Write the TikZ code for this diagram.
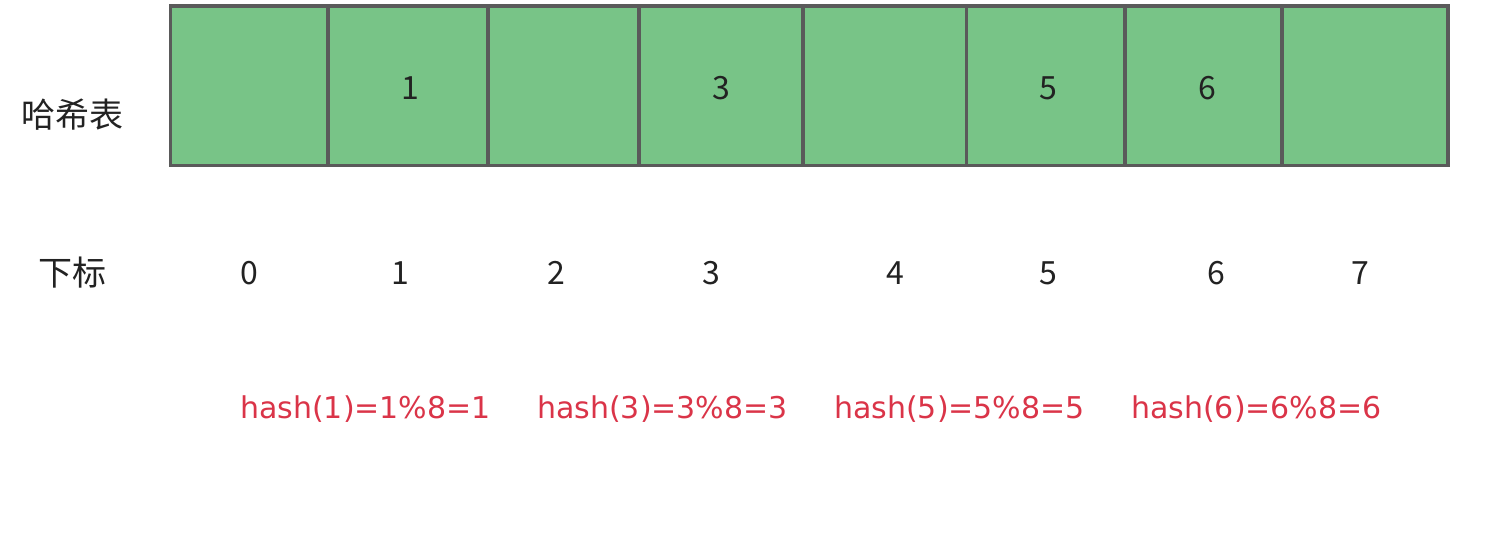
\documentclass[tikz,border=0pt]{standalone}
\usepackage{fontspec}
\setmainfont{Noto Sans CJK SC}
\newfontfamily\hashfont{DejaVu Sans}
\usetikzlibrary{positioning}
\definecolor{cellgreen}{RGB}{120,196,135}
\definecolor{cellline}{RGB}{90,90,90}
\definecolor{hashred}{RGB}{218,52,72}
\definecolor{txt}{RGB}{34,34,34}

\begin{document}
\begin{tikzpicture}[
    x=1pt, y=-1pt,
    every node/.style={text=txt, inner sep=0pt},
    cell/.style={rectangle, draw=cellline, fill=cellgreen, line width=3.6pt, minimum height=159.8pt},
    num/.style={font=\fontsize{32}{36}\selectfont, anchor=base},
    title/.style={font=\fontsize{34}{38}\selectfont},
    hashnote/.style={font=\hashfont\fontsize{30}{34}\selectfont, text=hashred, anchor=base west}
]
\useasboundingbox (0,0) rectangle (1512,542);
% the slots of the table
\node[cell, minimum width=157.5pt] (c0) at (249.25,85.6) {};
\node[cell, minimum width=160pt] (c1) at (408,85.6) {};
\node[cell, minimum width=151pt] (c2) at (563.5,85.6) {};
\node[cell, minimum width=164pt] (c3) at (721,85.6) {};
\node[cell, minimum width=163.5pt] (c4) at (884.75,85.6) {};
\node[cell, minimum width=158.5pt] (c5) at (1045.75,85.6) {};
\node[cell, minimum width=157pt] (c6) at (1203.5,85.6) {};
\node[cell, minimum width=166pt] (c7) at (1365,85.6) {};

\node[num] (v1) at (410,99.3) {1};
\node[num] (v3) at (721,99.3) {3};
\node[num] (v5) at (1048,99.3) {5};
\node[num] (v6) at (1207,99.3) {6};

\node[title] (table) at (72,115) {哈希表};
\node[title] (index) at (72,272.5) {下标};

% indices
\node[num] (i0) at (249,284) {0};
\node[num] (i1) at (400,284) {1};
\node[num] (i2) at (556,284) {2};
\node[num] (i3) at (711,284) {3};
\node[num] (i4) at (895,284) {4};
\node[num] (i5) at (1048,284) {5};
\node[num] (i6) at (1216,284) {6};
\node[num] (i7) at (1360,284) {7};

\node[hashnote] (h1) at (240,418) {hash(1)=1\%8=1};
\node[hashnote] (h3) at (537,418) {hash(3)=3\%8=3};
\node[hashnote] (h5) at (834,418) {hash(5)=5\%8=5};
\node[hashnote] (h6) at (1131,418) {hash(6)=6\%8=6};
\end{tikzpicture}
\end{document}
